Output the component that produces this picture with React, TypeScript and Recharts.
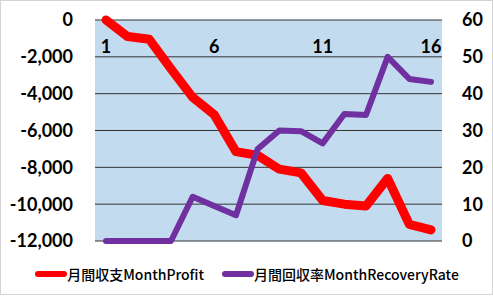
import React from 'react';
import { ComposedChart, Line, XAxis, YAxis, CartesianGrid, Legend } from 'recharts';

const months = [1, 2, 3, 4, 5, 6, 7, 8, 9, 10, 11, 12, 13, 14, 15, 16];
const monthProfit = [0, -900, -1050, -2650, -4200, -5150, -7150, -7350, -8100, -8300, -9800, -10000, -10100, -8600, -11100, -11400];
const monthRecoveryRate = [0, 0, 0, 0, 12, 9.5, 7, 25, 30, 29.8, 26.5, 34.5, 34.2, 50, 44, 43.2];
const leftTicks = [-12000, -10000, -8000, -6000, -4000, -2000, 0];
const rightTicks = [0, 10, 20, 30, 40, 50, 60];
const seriesNames = { profit: '月間収支MonthProfit', rate: '月間回収率MonthRecoveryRate' };

const data = months.map((m, i) => ({ month: m, profit: monthProfit[i], rate: monthRecoveryRate[i] }));

const tickFont = { fontFamily: 'Lato, "Noto Sans", sans-serif', fontWeight: 700, fontSize: 18, fill: '#000' };

const CategoryTick = (props: any) => {
  const { x, payload } = props;
  return (
    <text x={x} y={53} textAnchor="middle" style={tickFont} fontFamily={tickFont.fontFamily} fontWeight={700} fontSize={18} fill="#000">
      {payload.value}
    </text>
  );
};

const LegendContent = (props: any) => {
  const payload = props.payload || [];
  return (
    <div style={{ display: 'flex', justifyContent: 'center', alignItems: 'center', width: 493, marginLeft: 0 }}>
      {payload.map((p: any, i: number) => (
        <div key={i} style={{ display: 'flex', alignItems: 'center', marginRight: i === 0 ? 17 : 0 }}>
          <svg width={33} height={8} style={{ display: 'block' }}>
            <line x1={4} y1={4} x2={30} y2={4} stroke={p.color} strokeWidth={6} strokeLinecap="round" />
          </svg>
          <span style={{ fontFamily: '"Noto Sans CJK JP", "Noto Sans", sans-serif', fontSize: 14, fontWeight: 500, color: '#000', lineHeight: '18px' }}>{p.value}</span>
        </div>
      ))}
    </div>
  );
};

export default function App() {
  return (
    <div style={{ position: 'absolute', left: 0, top: 0, width: 493, height: 296, background: '#fff' }}>
      <div style={{ position: 'absolute', left: 0, top: 0, width: 491, height: 293, border: '1px solid #d4d4d4', boxSizing: 'content-box' }} />
      <ComposedChart width={493} height={296} data={data} margin={{ top: 19, right: 0, bottom: 55, left: 0 }}>
        <CartesianGrid yAxisId="left" vertical={false} stroke="#333" strokeWidth={1} fill="#c3dbef" fillOpacity={1} />
        <XAxis dataKey="month" orientation="top" height={1} interval={4} padding={{ left: 11, right: 11 }} axisLine={false} tickLine={false} tickSize={0} tick={<CategoryTick />} />
        <YAxis yAxisId="left" orientation="left" width={95} domain={[-12000, 0]} ticks={leftTicks} axisLine={false} tickLine={false} tickSize={0} tickMargin={22} tick={tickFont} tickFormatter={(v: number) => v.toLocaleString('en-US')} />
        <YAxis yAxisId="right" orientation="right" width={51} domain={[0, 60]} ticks={rightTicks} axisLine={false} tickLine={false} tickSize={0} tickMargin={20} tick={{ ...tickFont, textAnchor: 'start' }} />
        <Line yAxisId="left" dataKey="profit" name={seriesNames.profit} stroke="#ff0000" strokeWidth={9} dot={false} isAnimationActive={false} strokeLinecap="round" strokeLinejoin="round" />
        <Line yAxisId="right" dataKey="rate" name={seriesNames.rate} stroke="#7030a0" strokeWidth={6} dot={false} isAnimationActive={false} strokeLinecap="round" strokeLinejoin="round" />
        <Legend verticalAlign="middle" layout="horizontal" content={<LegendContent />} wrapperStyle={{ top: 265, left: 0, width: 493 }} />
      </ComposedChart>
    </div>
  );
}
